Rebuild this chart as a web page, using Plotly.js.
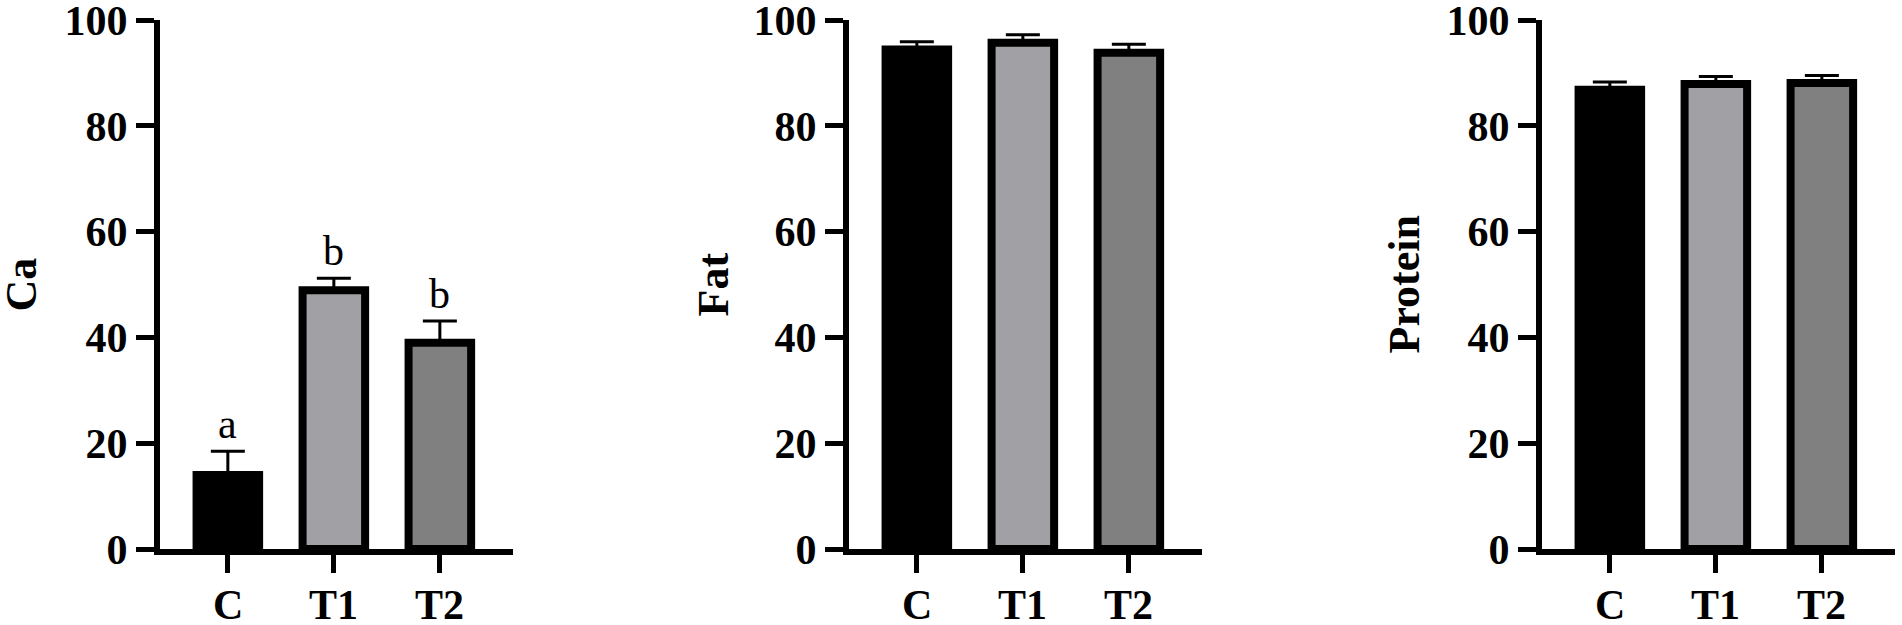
<!DOCTYPE html>
<html>
<head>
<meta charset="utf-8">
<script src="https://cdn.plot.ly/plotly-3.0.1.min.js"></script>
<style>html,body{margin:0;padding:0;background:#fff;}#chart{width:1902px;height:625px;}</style>
</head>
<body>
<div id="chart"></div>
<script>
// ---- data ----
var categories = ['C', 'T1', 'T2'];
var caMeans = [14.0, 48.9, 39.0];
var caErr = [4.5, 2.3, 4.1];
var caLetters = ['a', 'b', 'b'];
var fatMeans = [94.4, 95.7, 93.8];
var fatErr = [1.5, 1.5, 1.6];
var proteinMeans = [86.8, 87.9, 88.1];
var proteinErr = [1.5, 1.4, 1.4];
var panelTitles = ['Ca', 'Fat', 'Protein'];
var yTickVals = [0, 20, 40, 60, 80, 100];

// ---- styling ----
var barColors = ['#000000', '#a1a1a5', '#808080'];
var FONT = 'Liberation Serif, Times New Roman, serif';
var W = 1902;
var xDomains = [[160 / W, 513 / W], [849 / W, 1202 / W], [1542 / W, 1895 / W]];
var yDomain = [0.1216, 0.968];
var titleX = [21 / W, 713 / W, 1404 / W];
var xRange = [-0.64, 2.69];

var series = [[caMeans, caErr], [fatMeans, fatErr], [proteinMeans, proteinErr]];
var data = [];
var layout = {
  width: 1902, height: 625,
  margin: {l: 0, r: 0, t: 0, b: 0},
  paper_bgcolor: '#ffffff', plot_bgcolor: '#ffffff',
  showlegend: false,
  annotations: []
};

series.forEach(function (s, i) {
  var n = i === 0 ? '' : String(i + 1);
  data.push({
    type: 'bar',
    x: categories,
    y: s[0],
    width: 0.59,
    xaxis: 'x' + n,
    yaxis: 'y' + n,
    marker: {color: barColors, line: {color: '#000000', width: 8}},
    error_y: {type: 'data', symmetric: false, array: s[1], arrayminus: [0, 0, 0],
              color: '#000000', thickness: 3, width: 17},
    hoverinfo: 'none'
  });
  layout['xaxis' + n] = {
    domain: xDomains[i],
    anchor: 'y' + n,
    type: 'category',
    range: xRange,
    showline: true, linecolor: '#000000', linewidth: 6,
    ticks: 'outside', ticklen: 18, tickwidth: 5, tickcolor: '#000000',
    showticklabels: false,
    showgrid: false, zeroline: false, fixedrange: true
  };
  layout['yaxis' + n] = {
    domain: yDomain,
    anchor: 'x' + n,
    range: [0, 100],
    tickvals: yTickVals,
    showline: true, linecolor: '#000000', linewidth: 6,
    ticks: 'outside', ticklen: 18, tickwidth: 5, tickcolor: '#000000',
    ticklabeloverflow: 'allow',
    showgrid: false, zeroline: false, fixedrange: true,
    tickfont: {family: FONT, size: 42, color: '#000000', weight: 700}
  };
  // category labels under each tick
  categories.forEach(function (c) {
    layout.annotations.push({
      text: c,
      xref: 'x' + n, yref: 'paper',
      x: c, y: yDomain[0],
      xanchor: 'center', yanchor: 'top',
      yshift: -31, showarrow: false,
      font: {family: FONT, size: 42, color: '#000000', weight: 700}
    });
  });
  layout.annotations.push({
    text: panelTitles[i],
    xref: 'paper', yref: 'paper',
    x: titleX[i], y: (yDomain[0] + yDomain[1]) / 2,
    xanchor: 'center', yanchor: 'middle',
    textangle: -90, showarrow: false,
    font: {family: FONT, size: 44, color: '#000000', weight: 700}
  });
});

caLetters.forEach(function (t, j) {
  layout.annotations.push({
    text: t,
    xref: 'x', yref: 'y',
    x: categories[j], y: caMeans[j] + caErr[j],
    xanchor: 'center', yanchor: 'bottom',
    yshift: 2, showarrow: false,
    font: {family: FONT, size: 42, color: '#000000'}
  });
});

Plotly.newPlot('chart', data, layout, {displayModeBar: false, staticPlot: true});
</script>
</body>
</html>
